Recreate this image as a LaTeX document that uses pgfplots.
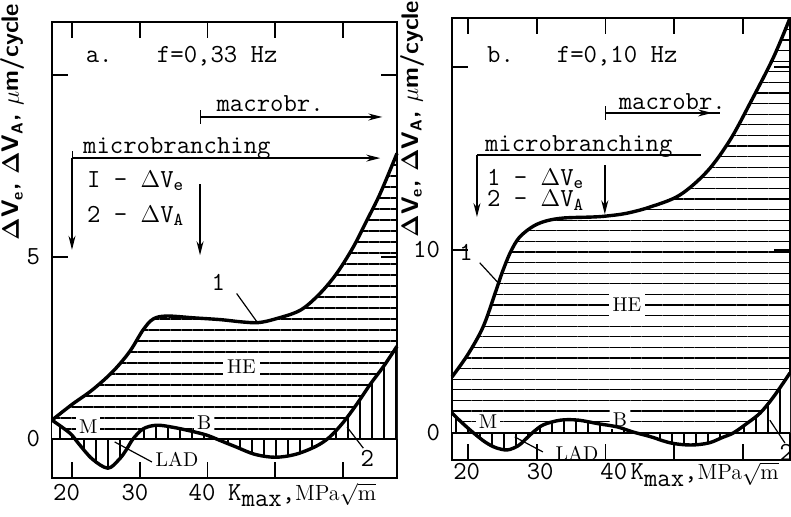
\documentclass[border=0pt]{standalone}
\usepackage{pgfplots}
\pgfplotsset{compat=1.18}
\usepgfplotslibrary{fillbetween}
\usetikzlibrary{patterns.meta, arrows.meta}

\newcommand\tw{\ttfamily\fontsize{13}{15}\selectfont}
\newcommand\rl{\rmfamily\fontsize{10}{12}\selectfont}
\newcommand\ylab{\sffamily\bfseries\fontsize{12}{14}\selectfont}

\pgfplotsset{
  panel/.style={
    scale only axis, clip=false,
    axis line style={line width=1pt},
    tick align=inside, major tick length=8pt,
    every tick/.style={black, line width=0.8pt},
    xtick pos=both, ytick pos=both,
    xtick={20,30,40,50,60}, xticklabels={},
    ticklabel style={font=\tw},
    yticklabel style={anchor=east, xshift=-2.5pt},
  },
  curve/.style={line width=1.7pt, smooth, tension=0.55},
}
\tikzset{
  arr/.style={line width=0.7pt, -{Stealth[length=7pt,width=3.5pt]}},
  barr/.style={line width=0.7pt, {Bar[width=7pt]}-{Stealth[length=7pt,width=3.5pt]}},
}

\begin{document}
\begin{tikzpicture}

% ---------------- panel a ----------------
\begin{axis}[panel, at={(26pt,19.5pt)}, anchor=south west,
  width=172.5pt, height=228pt,
  xmin=17.05, xmax=67.97, ymin=-1.07, ymax=11.46,
  ytick={0,5,10}, yticklabels={0,5,{}}]

\addplot[curve, draw=none, name path=c1] coordinates {
  (17.05,0.52)(20,0.95)(23,1.35)(26,1.85)(28.5,2.4)(30.5,3.0)(32,3.3)
  (34,3.38)(38,3.33)(42,3.28)(45,3.22)(47.5,3.2)(50,3.3)(53.7,3.54)
  (56.6,4.0)(59.1,4.56)(61.5,5.27)(63.5,6.0)(65.5,6.75)(67.97,7.85)};
\addplot[curve, draw=none, name path=c2] coordinates {
  (17.05,0.52)(19.7,0.16)(21,-0.13)(23,-0.55)(25.3,-0.8)(27,-0.55)(28,-0.3)
  (29,0.0)(30.5,0.28)(32.5,0.38)(35,0.32)(38,0.2)(40,0.1)(42,-0.05)
  (44,-0.2)(47,-0.42)(50,-0.5)(53,-0.42)(56,-0.2)(58,0.05)(60,0.45)
  (62,0.95)(64,1.5)(66,2.0)(67.97,2.55)};
\addplot[draw=none, name path=zero] coordinates {(17.05,0)(67.97,0)};

\addplot[draw=none, pattern={Lines[angle=0,distance=5.5pt,line width=0.65pt]}]
  fill between[of=c1 and zero];
\addplot[draw=none, fill=white] fill between[of=c2 and zero];
\addplot[draw=none, pattern={Lines[angle=90,distance=6pt,line width=0.65pt]}]
  fill between[of=c2 and zero];

\draw[line width=0.8pt] (17.05,0) -- (67.97,0);

\node[font=\rl, fill=white, inner sep=2pt] at (45,2.0) {HE};
\node[font=\rl, fill=white, inner sep=1.5pt] at (22.4,0.33) {M};
\node[font=\rl, fill=white, inner sep=1.5pt] at (39.5,0.44) {B};
\node[font=\rl] at (35.5,-0.57) {LAD};
\draw[line width=0.6pt] (26.3,-0.08) -- (31.8,-0.63);
\node[font=\tw] at (41.6,4.3) {1};
\draw[line width=0.6pt] (44.3,4.0) -- (47.3,3.22);
\node[font=\tw] at (63.6,-0.52) {2};
\draw[line width=0.6pt] (60.6,0.33) -- (63,-0.25);

\addplot[curve] coordinates {
  (17.05,0.52)(20,0.95)(23,1.35)(26,1.85)(28.5,2.4)(30.5,3.0)(32,3.3)
  (34,3.38)(38,3.33)(42,3.28)(45,3.22)(47.5,3.2)(50,3.3)(53.7,3.54)
  (56.6,4.0)(59.1,4.56)(61.5,5.27)(63.5,6.0)(65.5,6.75)(67.97,7.85)};
\addplot[curve] coordinates {
  (17.05,0.52)(19.7,0.16)(21,-0.13)(23,-0.55)(25.3,-0.8)(27,-0.55)(28,-0.3)
  (29,0.0)(30.5,0.28)(32.5,0.38)(35,0.32)(38,0.2)(40,0.1)(42,-0.05)
  (44,-0.2)(47,-0.42)(50,-0.5)(53,-0.42)(56,-0.2)(58,0.05)(60,0.45)
  (62,0.95)(64,1.5)(66,2.0)(67.97,2.55)};

\node[font=\tw, anchor=base west] at (21.0,10.36) {a.};
\node[font=\tw, anchor=base west] at (31.5,10.36) {f=0,33 Hz};
\node[font=\tw, anchor=base west] at (40.3,9.0) {macrobr.};
\draw[barr] (38.9,8.85) -- (65.8,8.85);
\node[font=\tw, anchor=base west] at (20.6,7.85) {microbranching};
\draw[barr] (20,7.72) -- (65.5,7.72);
\draw[arr] (20,7.72) -- (20,5.2);
\node[font=\tw, anchor=base west] at (21.2,6.92) {I - $\Delta$V\textsubscript{e}};
\node[font=\tw, anchor=base west] at (21.2,5.96) {2 - $\Delta$V\textsubscript{A}};
\draw[arr] (38.9,7.0) -- (38.9,5.05);

% x tick labels
\node[font=\tw, anchor=base] at (19.2,-1.68) {20};
\node[font=\tw, anchor=base] at (29.3,-1.68) {30};
\node[font=\tw, anchor=base] at (39.2,-1.68) {40};
\node[anchor=base west, inner sep=0pt] at (43.0,-1.68)
  {\tw K\raisebox{-0.55ex}{max},\rl\fontsize{11}{13}\selectfont MPa$\sqrt{\mathrm{m}}$};
\end{axis}

% ---------------- panel b ----------------
\begin{axis}[panel, at={(226pt,28.5pt)}, anchor=south west,
  width=169pt, height=221pt,
  xmin=17.67, xmax=66.84, ymin=-1.48, ymax=22.68,
  ytick={0,10,20}, yticklabels={0,10,{}}]

\addplot[curve, draw=none, name path=c1] coordinates {
  (17.67,3.06)(20,4.3)(22.2,5.8)(24,7.7)(25,8.8)(26.2,9.9)(27.5,10.7)
  (29.5,11.3)(31.5,11.6)(34,11.75)(38,11.8)(40,11.85)(43,12.0)(46.5,12.35)
  (50.8,13.0)(54.8,14.3)(58.1,16.0)(61,18.0)(64.4,20.5)(66.84,22.68)};
\addplot[curve, draw=none, name path=c2] coordinates {
  (17.67,1.09)(19,0.6)(20.8,0.0)(22.5,-0.5)(24,-0.8)(25.7,-0.93)(27.3,-0.7)
  (28.5,-0.3)(29.5,0.05)(31,0.45)(33.5,0.7)(36,0.7)(39,0.5)(41.7,0.33)
  (44,0.05)(46.5,-0.2)(49.5,-0.55)(52.4,-0.66)(55,-0.55)(57,-0.25)
  (58.6,0.0)(60.5,0.5)(62.5,1.09)(64.5,2.0)(66.84,3.28)};
\addplot[draw=none, name path=zero] coordinates {(17.67,0)(66.84,0)};

\addplot[draw=none, pattern={Lines[angle=0,distance=5.3pt,line width=0.65pt]}]
  fill between[of=c1 and zero];
\addplot[draw=none, fill=white] fill between[of=c2 and zero];
\addplot[draw=none, pattern={Lines[angle=90,distance=6pt,line width=0.65pt]}]
  fill between[of=c2 and zero];

\draw[line width=0.8pt] (17.67,0) -- (66.84,0);

\node[font=\rl, fill=white, inner sep=2pt] at (43.1,7.0) {HE};
\node[font=\rl, fill=white, inner sep=1.5pt] at (22.9,0.6) {M};
\node[font=\rl, fill=white, inner sep=1.5pt] at (42.1,0.75) {B};
\node[font=\rl] at (35.85,-1.1) {LAD};
\draw[line width=0.6pt] (26.8,-0.22) -- (30.9,-1.04);
\node[font=\tw] at (19.7,9.84) {1};
\draw[line width=0.6pt] (21.7,9.3) -- (24.4,8.2);
\node[font=\tw] at (66.3,-1.05) {2};
\draw[line width=0.6pt] (63.9,0.7) -- (66.1,-0.55);

\addplot[curve] coordinates {
  (17.67,3.06)(20,4.3)(22.2,5.8)(24,7.7)(25,8.8)(26.2,9.9)(27.5,10.7)
  (29.5,11.3)(31.5,11.6)(34,11.75)(38,11.8)(40,11.85)(43,12.0)(46.5,12.35)
  (50.8,13.0)(54.8,14.3)(58.1,16.0)(61,18.0)(64.4,20.5)(66.84,22.68)};
\addplot[curve] coordinates {
  (17.67,1.09)(19,0.6)(20.8,0.0)(22.5,-0.5)(24,-0.8)(25.7,-0.93)(27.3,-0.7)
  (28.5,-0.3)(29.5,0.05)(31,0.45)(33.5,0.7)(36,0.7)(39,0.5)(41.7,0.33)
  (44,0.05)(46.5,-0.2)(49.5,-0.55)(52.4,-0.66)(55,-0.55)(57,-0.25)
  (58.6,0.0)(60.5,0.5)(62.5,1.09)(64.5,2.0)(66.84,3.28)};

\node[font=\tw, anchor=base west] at (21.75,20.27) {b.};
\node[font=\tw, anchor=base west] at (31.9,20.27) {f=0,10 Hz};
\node[font=\tw, anchor=base west] at (40.9,17.7) {macrobr.};
\draw[line width=0.7pt] (39.9,17.49) -- (56.7,17.49);
\draw[barr] (39.9,17.49) -- (55.5,17.49);
\node[font=\tw, anchor=base west] at (21.45,15.4) {microbranching};
\draw[line width=0.7pt] (21.3,15.19) -- (53.9,15.19);
\draw[arr] (21.3,15.19) -- (21.3,11.8);
\node[font=\tw, anchor=base west] at (21.75,13.55) {1 - $\Delta$V\textsubscript{e}};
\node[font=\tw, anchor=base west] at (21.75,12.35) {2 - $\Delta$V\textsubscript{A}};
\draw[arr] (39.9,14.64) -- (39.9,11.95);

% x tick labels
\node[font=\tw, anchor=base] at (19.8,-2.57) {20};
\node[font=\tw, anchor=base] at (30.5,-2.57) {30};
\node[font=\tw, anchor=base] at (41.2,-2.57) {40};
\node[anchor=base west, inner sep=0pt] at (43.6,-2.57)
  {\tw K\raisebox{-0.55ex}{max},\rl\fontsize{11}{13}\selectfont MPa$\sqrt{\mathrm{m}}$};
\end{axis}

% y-axis titles
\node[rotate=90, font=\ylab] at (6.5pt,197.5pt)
  {$\mathbf{\Delta}$V\textsubscript{e}, $\mathbf{\Delta}$V\textsubscript{A}, $\mu$m/cycle};
\node[rotate=90, font=\ylab] at (206pt,199pt)
  {$\mathbf{\Delta}$V\textsubscript{e}, $\mathbf{\Delta}$V\textsubscript{A}, $\mu$m/cycle};

\pgfresetboundingbox
\useasboundingbox (0,0) rectangle (395.5pt,258.5pt);
\end{tikzpicture}
\end{document}
